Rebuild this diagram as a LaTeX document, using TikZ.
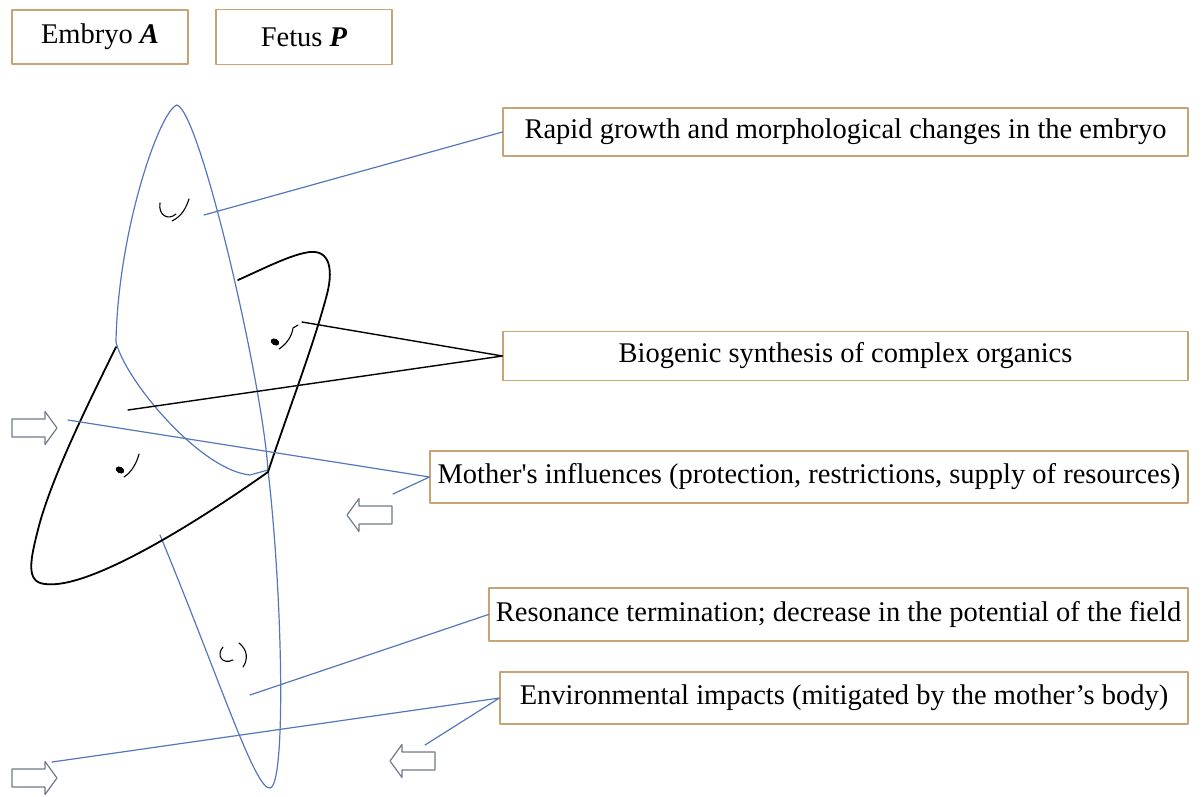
\documentclass[tikz,border=0pt]{standalone}
\usepackage{fontspec}
\setmainfont{Liberation Serif}
\definecolor{fieldblue}{RGB}{84,118,186}
\definecolor{boxtan}{RGB}{200,164,116}
\definecolor{arrowgray}{RGB}{112,122,140}

\begin{document}
\begin{tikzpicture}[x=1pt,y=-1pt,line cap=round,line join=round,
  labelbox/.style={draw=boxtan,line width=1.1pt,fill=white,inner sep=0pt,
    font=\fontsize{28.5}{32}\selectfont},
  fieldline/.style={draw=fieldblue,line width=1.2pt},
  bodyline/.style={draw=black,line width=1.8pt},
  hollowarrow/.style={draw=arrowgray,line width=1.2pt,fill=white}]
  \useasboundingbox (0,0) rectangle (1204,796);

  \node[labelbox,minimum width=176pt,minimum height=54pt] (embA) at (100,37) {Embryo \textbf{\textit{A}}};
  \node[labelbox,minimum width=176pt,minimum height=55pt] (fetP) at (304,37) {Fetus \textbf{\textit{P}}};

  \draw[fieldline] (177,105) .. controls (160,110) and (118,230) .. (116,342)
    .. controls (125,380) and (200,470) .. (250,475) -- (268,470)
    .. controls (262,380) and (200,112) .. (177,105);
  \draw[fieldline] (160,535) .. controls (220,680) and (255,790) .. (270,788)
    .. controls (286,786) and (283,600) .. (268,470);
  \draw[bodyline] (238,280) .. controls (265,268) and (292,254) .. (310,252)
    .. controls (330,250) and (334,270) .. (326,298)
    .. controls (312,350) and (285,420) .. (268,472)
    .. controls (200,520) and (90,590) .. (45,584)
    .. controls (25,582) and (30,560) .. (40,522)
    .. controls (55,470) and (90,400) .. (116,347);

  \draw[line width=1.1pt] (160,203) .. controls (158,215) and (168,221) .. (176,214);
  \draw[line width=1.1pt] (172,221) .. controls (182,216) and (186,208) .. (189,199);
  \fill[rotate around={-30:(275,342)}] (275,342) ellipse (4.5pt and 3.2pt);
  \draw[line width=1.1pt] (279,349) .. controls (288,343) and (292,335) .. (293,328) -- (298,325);
  \fill[rotate around={-30:(120,470)}] (120,470) ellipse (4.5pt and 3.2pt);
  \draw[line width=1.1pt] (124,477) .. controls (132,472) and (137,462) .. (139,454);
  \draw[line width=1.1pt] (223,647) .. controls (216,655) and (222,665) .. (233,660);
  \draw[line width=1.1pt] (239,643) .. controls (248,650) and (248,660) .. (243,667);

  \node[labelbox,minimum width=685pt,minimum height=48pt] (rapid) at (845.5,132) {Rapid growth and morphological changes in the embryo};
  \node[labelbox,minimum width=685pt,minimum height=49pt] (bio) at (845.5,356) {Biogenic synthesis of complex organics};
  \node[labelbox,minimum width=758pt,minimum height=52pt] (mother) at (809,477) {Mother\textquotesingle s influences (protection, restrictions, supply of resources)};
  \node[labelbox,minimum width=699pt,minimum height=53pt] (reson) at (838.5,614.5) {Resonance termination; decrease in the potential of the field};
  \node[labelbox,minimum width=688pt,minimum height=52pt] (envir) at (844,698) {Environmental impacts (mitigated by the mother's body)};

  \coordinate (rg) at (204,215);
  \coordinate (bs1) at (302,322);
  \coordinate (bs2) at (128,410);
  \coordinate (mi1) at (68,420);
  \coordinate (mi2) at (393,494);
  \coordinate (rt) at (250,695);
  \coordinate (ei1) at (52,762);
  \coordinate (ei2) at (425,745);

  \draw[fieldline] (rg) -- (rapid.west);
  \draw[line width=1.4pt] (bs1) -- (bio.west) -- (bs2);
  \draw[fieldline] (mi1) -- (mother.west) -- (mi2);
  \draw[fieldline] (rt) -- (reson.west);
  \draw[fieldline] (ei1) -- (envir.west) -- (ei2);

  \draw[hollowarrow,shift={(57,428)}] (-45,-9) -- (-12,-9) -- (-12,-16.5) -- (0,0) -- (-12,16.5) -- (-12,9) -- (-45,9) -- cycle;
  \draw[hollowarrow,shift={(347,515)},xscale=-1] (-45,-9) -- (-12,-9) -- (-12,-16.5) -- (0,0) -- (-12,16.5) -- (-12,9) -- (-45,9) -- cycle;
  \draw[hollowarrow,shift={(57,778)}] (-45,-9) -- (-12,-9) -- (-12,-16.5) -- (0,0) -- (-12,16.5) -- (-12,9) -- (-45,9) -- cycle;
  \draw[hollowarrow,shift={(390,761)},xscale=-1] (-45,-9) -- (-12,-9) -- (-12,-16.5) -- (0,0) -- (-12,16.5) -- (-12,9) -- (-45,9) -- cycle;
\end{tikzpicture}
\end{document}
